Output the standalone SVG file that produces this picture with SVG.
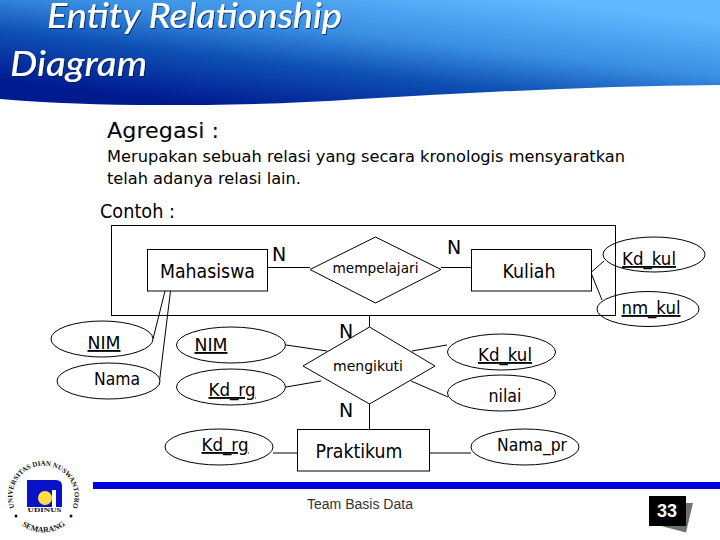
<svg xmlns="http://www.w3.org/2000/svg" width="720" height="540" viewBox="0 0 720 540">
<style>
.s{fill:none;stroke:#000;stroke-width:1}
.b{fill:#fff;stroke:#000;stroke-width:1}
.o{fill:none;stroke:#000;stroke-width:1}
.t{font-family:"DejaVu Sans","Liberation Sans",sans-serif;fill:#000;text-anchor:middle}
.e{font-size:18.5px}
.u{text-decoration:underline}
.c{font-family:"Lato","Liberation Sans",sans-serif;font-style:italic;font-weight:500;font-size:35px;fill:#fff;filter:url(#sh)}
.k{font-family:"DejaVu Sans","Liberation Sans",sans-serif;fill:#000}
.r{font-family:"Liberation Serif",serif;font-weight:700;fill:#111}
</style>
<defs>
<linearGradient id="hg" gradientUnits="userSpaceOnUse" x1="200" y1="105" x2="217" y2="-38">
<stop offset="0" stop-color="#001a90"/><stop offset="0.35" stop-color="#0e50b4"/><stop offset="0.62" stop-color="#3a8fe2"/><stop offset="1" stop-color="#60b8ff"/>
</linearGradient>
<filter id="sh" x="-5%" y="-10%" width="110%" height="130%"><feDropShadow dx="1" dy="1" stdDeviation="0.4" flood-color="#00154f" flood-opacity="0.8"/></filter>
<path id="ring1" d="M15.400 509.600A31 31 0 1 1 71.600 509.600"/>
<path id="ring2" d="M15.900 519.600A36 36 0 0 0 71.100 519.600"/>
</defs>
<g id="header">
<path d="M0 0H720V85C600 86 480 92 360 99C290 104 220 105 160 105C100 105 50 103 0 99Z" fill="url(#hg)"/>
<text class="c" x="47" y="28" textLength="295" lengthAdjust="spacingAndGlyphs">Entity Relationship</text>
<text class="c" x="10" y="76" textLength="137" lengthAdjust="spacingAndGlyphs">Diagram</text>
</g>
<g id="body-text">
<text class="k" x="107" y="138" font-size="22" textLength="112" lengthAdjust="spacingAndGlyphs">Agregasi :</text>
<text class="k" x="107" y="162" font-size="16" textLength="518" lengthAdjust="spacingAndGlyphs">Merupakan sebuah relasi yang secara kronologis mensyaratkan</text>
<text class="k" x="107" y="184" font-size="16" textLength="194" lengthAdjust="spacingAndGlyphs">telah adanya relasi lain.</text>
<text class="k" x="100" y="218" font-size="19" textLength="75" lengthAdjust="spacingAndGlyphs">Contoh :</text>
</g>
<g id="connectors">
<rect class="s" x="111.500" y="225.500" width="504" height="90"/>
<path class="s" d="M267.500 267.500H310M441 267.500H471M165 291L153 339M170.500 291L159 385M286 345L327 351M286 387L321 381M273 453H297M430 453H471M369.500 315V327M369.500 404V429M412 351L447 345M411 381L448 397M591.500 272L604 261M591.500 274L602 300"/>
</g>
<g id="mahasiswa"><rect class="b" x="147.500" y="249.500" width="120" height="41.500"/><text class="t" x="207.500" y="278" font-size="19" textLength="95" lengthAdjust="spacingAndGlyphs">Mahasiswa</text></g>
<g id="mempelajari"><path class="b" d="M375.500 237L441 269.500L375.500 303L310 269.500Z"/><text class="t" x="375.500" y="273" font-size="14.500" textLength="86" lengthAdjust="spacingAndGlyphs">mempelajari</text></g>
<g id="kuliah"><rect class="b" x="471.500" y="249.500" width="120" height="41.500"/><text class="t" x="529" y="278" font-size="19" textLength="53" lengthAdjust="spacingAndGlyphs">Kuliah</text></g>
<g id="mengikuti"><path class="b" d="M369.500 327L435 366L369.500 404L303 366Z"/><text class="t" x="368" y="371" font-size="14.500" textLength="70" lengthAdjust="spacingAndGlyphs">mengikuti</text></g>
<g id="praktikum"><rect class="b" x="297.500" y="429.500" width="132" height="41.500"/><text class="t" x="359" y="458" font-size="19" textLength="87" lengthAdjust="spacingAndGlyphs">Praktikum</text></g>
<g id="attr-kd-kul-1"><ellipse class="o" cx="654" cy="254.500" rx="51" ry="17.500"/><text class="t e u" x="649" y="265" textLength="54" lengthAdjust="spacingAndGlyphs">Kd_kul</text></g>
<g id="attr-nm-kul"><ellipse class="o" cx="648" cy="309" rx="51" ry="17.500"/><text class="t e u" x="651" y="314" textLength="59" lengthAdjust="spacingAndGlyphs">nm_kul</text></g>
<g id="attr-nim-1"><ellipse class="b" cx="102" cy="339" rx="51" ry="18"/><text class="t e u" x="104" y="349" textLength="33" lengthAdjust="spacingAndGlyphs">NIM</text></g>
<g id="attr-nama"><ellipse class="b" cx="108.500" cy="381" rx="51.500" ry="18"/><text class="t e" x="117" y="385" textLength="46" lengthAdjust="spacingAndGlyphs">Nama</text></g>
<g id="attr-nim-2"><ellipse class="b" cx="231" cy="345" rx="54.500" ry="18"/><text class="t e u" x="211" y="351" textLength="33" lengthAdjust="spacingAndGlyphs">NIM</text></g>
<g id="attr-kd-rg-1"><ellipse class="b" cx="231" cy="387" rx="54.500" ry="18"/><text class="t e u" x="232" y="396" textLength="47" lengthAdjust="spacingAndGlyphs">Kd_rg</text></g>
<g id="attr-kd-rg-2"><ellipse class="b" cx="219" cy="447" rx="54" ry="18"/><text class="t e u" x="225" y="451" textLength="47" lengthAdjust="spacingAndGlyphs">Kd_rg</text></g>
<g id="attr-kd-kul-2"><ellipse class="b" cx="501.500" cy="352" rx="54" ry="18"/><text class="t e u" x="505" y="361" textLength="54" lengthAdjust="spacingAndGlyphs">Kd_kul</text></g>
<g id="attr-nilai"><ellipse class="b" cx="501.500" cy="393" rx="54" ry="18"/><text class="t e" x="505" y="402" textLength="33" lengthAdjust="spacingAndGlyphs">nilai</text></g>
<g id="attr-nama-pr"><ellipse class="b" cx="525" cy="447" rx="54" ry="18"/><text class="t e" x="532" y="451" textLength="70" lengthAdjust="spacingAndGlyphs">Nama_pr</text></g>
<g id="labels">
<text class="t" x="279" y="261" font-size="19">N</text>
<text class="t" x="454" y="254" font-size="19">N</text>
<text class="t" x="346" y="338" font-size="19">N</text>
<text class="t" x="346" y="417" font-size="19">N</text>
</g>
<g id="footer">
<rect x="93" y="482" width="627" height="7" fill="#0000dc"/>
<text x="307" y="509" font-family="Liberation Sans, sans-serif" font-size="14" fill="#333" textLength="106">Team Basis Data</text>
<path d="M686 503L693 503L686 532.500L661 526Z" fill="#707070"/>
<rect x="649" y="496" width="37" height="30" fill="#000"/>
<text x="667" y="517" font-family="Liberation Sans, sans-serif" font-weight="700" font-size="18" fill="#fff" text-anchor="middle">33</text>
</g>
<g id="logo">
<path d="M27 480H56Q62 480 62 486V507H56V490H52V507H27Z" fill="#0a12c8"/>
<circle cx="45" cy="498" r="7" fill="#ffe040"/>
<text class="r" x="44.500" y="511.500" font-size="5.500" text-anchor="middle" textLength="34" lengthAdjust="spacingAndGlyphs">UDINUS</text>
<text class="r" font-size="7"><textPath href="#ring1" startOffset="50%" text-anchor="middle">UNIVERSITAS DIAN NUSWANTORO</textPath></text>
<text class="r" font-size="8"><textPath href="#ring2" startOffset="50%" text-anchor="middle">SEMARANG</textPath></text>
<circle cx="16" cy="516" r="1.500" fill="#111"/><circle cx="71" cy="516" r="1.500" fill="#111"/>
</g>
</svg>
